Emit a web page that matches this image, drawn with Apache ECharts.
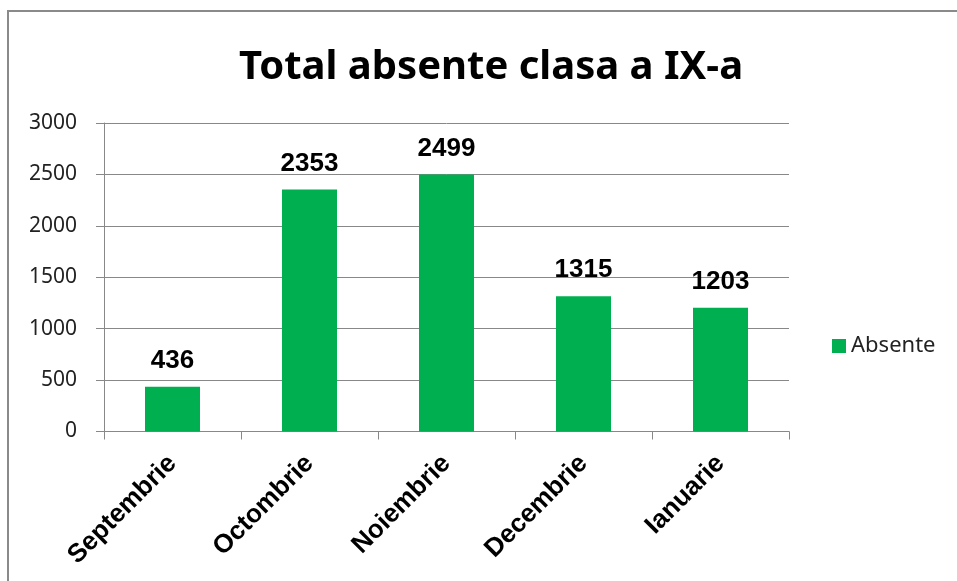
<!DOCTYPE html>
<html>
<head>
<meta charset="utf-8">
<script src="https://cdn.jsdelivr.net/npm/echarts@6/dist/echarts.min.js"></script>
<style>
  html, body { margin: 0; padding: 0; background: #fff; }
  #chart { width: 957px; height: 581px; }
</style>
</head>
<body>
<div id="chart"></div>
<script>
var months = ['Septembrie', 'Octombrie', 'Noiembrie', 'Decembrie', 'Ianuarie'];
var absente = [436, 2353, 2499, 1315, 1203];
var yTicks = [0, 500, 1000, 1500, 2000, 2500, 3000];

var chartDom = document.getElementById('chart');
var myChart = echarts.init(chartDom);

var option = {
  backgroundColor: '#fff',
  animation: false,
  title: {
    text: 'Total absente clasa a IX-a',
    left: 486,
    top: 43,
    textAlign: 'center',
    textStyle: {
      fontFamily: 'Noto Sans',
      fontWeight: 'bold',
      fontSize: 40,
      color: '#000'
    }
  },
  legend: {
    data: ['Absente'],
    orient: 'vertical',
    left: 827,
    top: 330,
    itemWidth: 14,
    itemHeight: 14,
    itemGap: 6,
    icon: 'rect',
    textStyle: {
      fontFamily: 'Noto Sans',
      fontSize: 22,
      color: '#222'
    }
  },
  grid: {
    left: 104,
    right: 168,
    top: 123,
    bottom: 149.5,
    containLabel: false
  },
  xAxis: {
    type: 'category',
    data: months,
    axisLine: { lineStyle: { color: '#888', width: 1 } },
    axisTick: { show: true, length: 8, lineStyle: { color: '#888' } },
    axisLabel: {
      rotate: 45,
      margin: 28,
      fontFamily: 'Liberation Sans',
      fontWeight: 'bold',
      fontSize: 26,
      color: '#000'
    }
  },
  yAxis: {
    type: 'value',
    min: 0,
    max: 3000,
    interval: 500,
    axisLine: { show: true, lineStyle: { color: '#888', width: 1 } },
    axisTick: { show: true, length: 8, lineStyle: { color: '#888' } },
    splitLine: { show: true, lineStyle: { color: '#888', width: 1 } },
    axisLabel: {
      margin: 27,
      fontFamily: 'Noto Sans',
      fontSize: 21,
      color: '#222',
      formatter: function (v) { return yTicks.indexOf(v) >= 0 ? String(v) : ''; }
    }
  },
  series: [
    {
      name: 'Absente',
      type: 'bar',
      data: absente,
      barWidth: 55,
      itemStyle: { color: '#00b050' },
      label: {
        show: true,
        position: 'top',
        distance: 13,
        fontFamily: 'Liberation Sans',
        fontWeight: 'bold',
        fontSize: 26,
        color: '#000'
      }
    }
  ],
  graphic: [
    {
      type: 'rect',
      shape: { x: 8, y: 11, width: 980, height: 620 },
      style: { fill: 'none', stroke: '#8a8a8a', lineWidth: 2 },
      silent: true
    }
  ]
};

myChart.setOption(option);
</script>
</body>
</html>
